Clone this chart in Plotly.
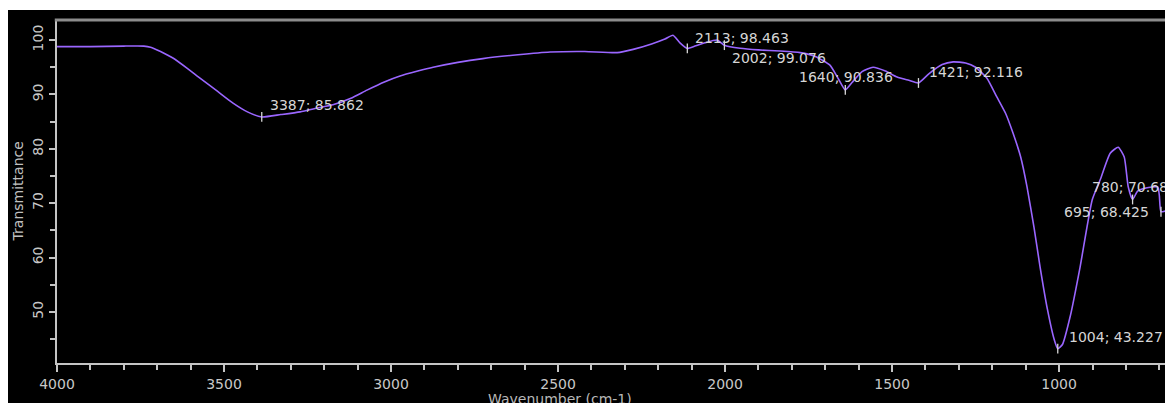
import plotly.graph_objects as go

# ---- data ----
wavenumber = [4000, 3900, 3800, 3740, 3720, 3690, 3653, 3610, 3572, 3520, 3473, 3430, 3387, 3330,
              3272, 3220, 3174, 3120, 3072, 3020, 2973, 2920, 2874, 2800, 2725, 2620, 2524, 2420,
              2323, 2275, 2220, 2180, 2156, 2135, 2113, 2090, 2060, 2024, 2002, 1955, 1900, 1835,
              1775, 1730, 1686, 1660, 1640, 1620, 1590, 1557, 1520, 1485, 1450, 1421, 1390, 1350,
              1317, 1280, 1250, 1216, 1186, 1160, 1138, 1115, 1096, 1075, 1057, 1035, 1015, 1004,
              990, 967, 937, 901, 877, 847, 823, 805, 793, 780, 765, 740, 705, 700, 695, 680, 659]
transmittance = [98.8, 98.8, 98.9, 98.9, 98.7, 97.9, 96.7, 94.8, 93.0, 90.6, 88.4, 86.8, 85.862, 86.3,
                 86.8, 87.5, 88.1, 89.3, 90.8, 92.3, 93.4, 94.3, 95.0, 95.9, 96.6, 97.3, 97.8, 97.9,
                 97.7, 98.3, 99.3, 100.2, 100.9, 99.5, 98.463, 98.9, 99.5, 100.0, 99.076, 98.5, 98.2, 98.0,
                 97.7, 97.0, 95.4, 92.8, 90.836, 92.2, 94.2, 95.0, 94.3, 93.2, 92.6, 92.116, 93.8, 95.5,
                 96.0, 95.8, 95.0, 93.0, 89.5, 86.5, 82.9, 78.5, 73.0, 65.5, 58.3, 50.5, 45.0, 43.227,
                 44.0, 49.1, 58.3, 70.6, 74.3, 79.2, 80.3, 78.5, 73.0, 70.68, 72.2, 72.8, 73.0, 71.5,
                 68.425, 68.6, 69.0]

# picked peaks
peak_x = [3387, 2113, 2002, 1640, 1421, 780, 695, 1004]
peak_y = [85.862, 98.463, 99.076, 90.836, 92.116, 70.68, 68.425, 43.227]
peak_labels = ["3387; 85.862", "2113; 98.463", "2002; 99.076", "1640; 90.836",
               "1421; 92.116", "780; 70.68", "695; 68.425", "1004; 43.227"]
label_x = [3368, 2096, 1985, 1784, 1395, 907, 991, 976]
label_y = [88.05, 100.4, 96.7, 93.2, 94.1, 73.0, 68.4, 45.4]

x_title = "Wavenumber (cm-1)"
y_title = "Transmittance"

fig = go.Figure()
fig.add_trace(go.Scatter(
    x=wavenumber, y=transmittance, mode="lines",
    line=dict(color="#9a66ff", width=1.6, shape="spline", smoothing=0.5),
    showlegend=False, hoverinfo="x+y",
))
fig.add_trace(go.Scatter(
    x=peak_x, y=peak_y, mode="markers",
    marker=dict(symbol="line-ns-open", size=7, color="#d8d8d8",
                line=dict(color="#d8d8d8", width=1.3)),
    showlegend=False, hoverinfo="skip",
))

for t, lx, ly in zip(peak_labels, label_x, label_y):
    fig.add_annotation(x=lx, y=ly, text=t, showarrow=False, xanchor="left", yanchor="middle",
                       font=dict(family="DejaVu Sans", size=14, color="#d6d6d6"))

# axis titles placed as paper annotations
fig.add_annotation(x=0.451, y=-0.106, xref="paper", yref="paper", text=x_title, showarrow=False,
                   xanchor="center", yanchor="middle",
                   font=dict(family="DejaVu Sans", size=14, color="#b8b8b8"))
fig.add_annotation(x=-0.035, y=0.5, xref="paper", yref="paper", text=y_title, showarrow=False,
                   textangle=-90, xanchor="center", yanchor="middle",
                   font=dict(family="DejaVu Sans", size=14, color="#c0c0c0"))

axis_col = "#c4c4c4"
fig.update_xaxes(
    range=[4000, 659], showgrid=False, zeroline=False, automargin=False,
    showline=True, linecolor=axis_col, linewidth=2,
    tickmode="linear", tick0=0, dtick=500, ticks="outside", ticklen=7, tickwidth=2, tickcolor=axis_col,
    minor=dict(dtick=100, ticks="outside", ticklen=5, tickwidth=2, tickcolor=axis_col),
    tickfont=dict(family="DejaVu Sans", size=14, color="#c8c8c8"),
)
fig.update_yaxes(
    range=[40.6, 103.7], showgrid=False, zeroline=False, automargin=False,
    showline=True, linecolor=axis_col, linewidth=2,
    tickmode="linear", tick0=0, dtick=10, ticks="outside", ticklen=6, tickwidth=2, tickcolor=axis_col,
    minor=dict(dtick=5, ticks="outside", ticklen=5, tickwidth=2, tickcolor=axis_col),
    tickangle=-90,
    tickfont=dict(family="DejaVu Sans", size=14, color="#c8c8c8"),
)

# thin white strip at the top of the screenshot and grey top frame
fig.add_shape(type="rect", xref="paper", yref="paper", x0=-0.06, x1=1.01, y0=1.0292, y1=1.07,
              fillcolor="white", line_width=0, layer="above")
fig.add_shape(type="line", xref="paper", yref="paper", x0=-0.002, x1=1.0, y0=1.0, y1=1.0,
              line=dict(color="#8c8c8c", width=3), layer="above")

fig.update_layout(
    width=1173, height=395,
    margin=dict(l=49, r=8, t=12, b=40, autoexpand=False),
    paper_bgcolor="black", plot_bgcolor="black",
    font=dict(family="DejaVu Sans", color="#c8c8c8"),
)

fig.write_html("out.html")
